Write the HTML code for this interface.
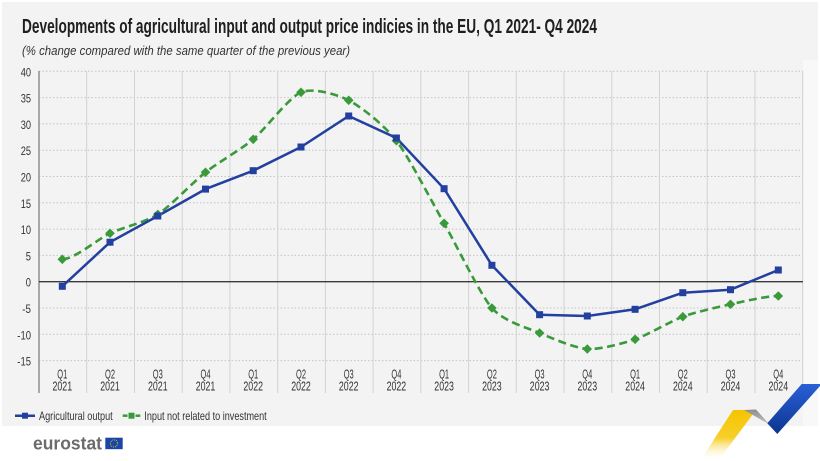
<!DOCTYPE html>
<html><head><meta charset="utf-8"><style>
html,body{margin:0;padding:0;background:#fff;}
svg{display:block;}
text{font-family:"Liberation Sans",sans-serif;}
</style></head><body>
<svg width="820" height="461" viewBox="0 0 820 461" xmlns="http://www.w3.org/2000/svg">
<defs>
<linearGradient id="yel" x1="0" y1="0" x2="0" y2="1">
<stop offset="0" stop-color="#f5c400"/><stop offset="0.55" stop-color="#f7cf2a"/><stop offset="1" stop-color="#ffffff" stop-opacity="0"/>
</linearGradient>
<linearGradient id="gry" x1="0" y1="0" x2="0" y2="1">
<stop offset="0" stop-color="#8c8c8c"/><stop offset="1" stop-color="#e8e8e8"/>
</linearGradient>
<linearGradient id="blu" x1="0" y1="0" x2="0" y2="1">
<stop offset="0" stop-color="#2a5fd6"/><stop offset="1" stop-color="#0c3591"/>
</linearGradient>
</defs>
<rect x="0" y="0" width="820" height="461" fill="#ffffff"/>
<rect x="2" y="2" width="816" height="424" fill="#f3f3f3"/>
<rect x="803" y="60" width="15" height="366" fill="#f8f8f8"/>

<!-- title -->
<text x="22" y="33" font-size="20" font-weight="bold" fill="#1f1f1f" textLength="575" lengthAdjust="spacingAndGlyphs">Developments of agricultural input and output price indicies in the EU, Q1 2021- Q4 2024</text>
<text x="22" y="55" font-size="13" font-style="italic" fill="#333" textLength="328" lengthAdjust="spacingAndGlyphs">(% change compared with the same quarter of the previous year)</text>

<!-- horizontal dotted gridlines -->
<g stroke="#c4c4c4" stroke-width="1" stroke-dasharray="1.5,2">
<line x1="39" y1="71.3" x2="803" y2="71.3"/>
<line x1="39" y1="97.6" x2="803" y2="97.6"/>
<line x1="39" y1="123.9" x2="803" y2="123.9"/>
<line x1="39" y1="150.2" x2="803" y2="150.2"/>
<line x1="39" y1="176.5" x2="803" y2="176.5"/>
<line x1="39" y1="202.8" x2="803" y2="202.8"/>
<line x1="39" y1="229.1" x2="803" y2="229.1"/>
<line x1="39" y1="255.4" x2="803" y2="255.4"/>
<line x1="39" y1="308" x2="803" y2="308"/>
<line x1="39" y1="334.3" x2="803" y2="334.3"/>
<line x1="39" y1="360.6" x2="803" y2="360.6"/>
</g>
<!-- vertical gridlines -->
<g stroke="#d2d2d2" stroke-width="1">
<line x1="86.7" y1="71" x2="86.7" y2="393"/>
<line x1="134.5" y1="71" x2="134.5" y2="393"/>
<line x1="182.2" y1="71" x2="182.2" y2="393"/>
<line x1="229.9" y1="71" x2="229.9" y2="393"/>
<line x1="277.7" y1="71" x2="277.7" y2="393"/>
<line x1="325.4" y1="71" x2="325.4" y2="393"/>
<line x1="373.1" y1="71" x2="373.1" y2="393"/>
<line x1="420.8" y1="71" x2="420.8" y2="393"/>
<line x1="468.6" y1="71" x2="468.6" y2="393"/>
<line x1="516.3" y1="71" x2="516.3" y2="393"/>
<line x1="564.0" y1="71" x2="564.0" y2="393"/>
<line x1="611.8" y1="71" x2="611.8" y2="393"/>
<line x1="659.5" y1="71" x2="659.5" y2="393"/>
<line x1="707.2" y1="71" x2="707.2" y2="393"/>
<line x1="755.0" y1="71" x2="755.0" y2="393"/>
<line x1="802.7" y1="71" x2="802.7" y2="393"/>
</g>
<line x1="39" y1="71" x2="39" y2="393" stroke="#8f8f8f" stroke-width="1.5"/>
<line x1="39" y1="281.7" x2="803" y2="281.7" stroke="#3a3a3a" stroke-width="1.3"/>

<!-- y labels -->
<g font-size="12" fill="#333" text-anchor="end">
<text x="31" y="76.3" textLength="10.3" lengthAdjust="spacingAndGlyphs">40</text>
<text x="31" y="102.6" textLength="10.3" lengthAdjust="spacingAndGlyphs">35</text>
<text x="31" y="128.9" textLength="10.3" lengthAdjust="spacingAndGlyphs">30</text>
<text x="31" y="155.2" textLength="10.3" lengthAdjust="spacingAndGlyphs">25</text>
<text x="31" y="181.5" textLength="10.3" lengthAdjust="spacingAndGlyphs">20</text>
<text x="31" y="207.8" textLength="10.3" lengthAdjust="spacingAndGlyphs">15</text>
<text x="31" y="234.1" textLength="10.3" lengthAdjust="spacingAndGlyphs">10</text>
<text x="31" y="260.4" textLength="5.2" lengthAdjust="spacingAndGlyphs">5</text>
<text x="31" y="286.7" textLength="5.2" lengthAdjust="spacingAndGlyphs">0</text>
<text x="31" y="313" textLength="8.7" lengthAdjust="spacingAndGlyphs">-5</text>
<text x="31" y="339.3" textLength="13.7" lengthAdjust="spacingAndGlyphs">-10</text>
<text x="31" y="365.6" textLength="13.7" lengthAdjust="spacingAndGlyphs">-15</text>
</g>

<!-- x labels -->
<g font-size="12.5" fill="#333" text-anchor="middle">
<text x="62.3" y="378.3" textLength="10" lengthAdjust="spacingAndGlyphs">Q1</text><text x="62.3" y="390.6" textLength="19.6" lengthAdjust="spacingAndGlyphs">2021</text>
<text x="110.0" y="378.3" textLength="10" lengthAdjust="spacingAndGlyphs">Q2</text><text x="110.0" y="390.6" textLength="19.6" lengthAdjust="spacingAndGlyphs">2021</text>
<text x="157.8" y="378.3" textLength="10" lengthAdjust="spacingAndGlyphs">Q3</text><text x="157.8" y="390.6" textLength="19.6" lengthAdjust="spacingAndGlyphs">2021</text>
<text x="205.5" y="378.3" textLength="10" lengthAdjust="spacingAndGlyphs">Q4</text><text x="205.5" y="390.6" textLength="19.6" lengthAdjust="spacingAndGlyphs">2021</text>
<text x="253.2" y="378.3" textLength="10" lengthAdjust="spacingAndGlyphs">Q1</text><text x="253.2" y="390.6" textLength="19.6" lengthAdjust="spacingAndGlyphs">2022</text>
<text x="301.0" y="378.3" textLength="10" lengthAdjust="spacingAndGlyphs">Q2</text><text x="301.0" y="390.6" textLength="19.6" lengthAdjust="spacingAndGlyphs">2022</text>
<text x="348.7" y="378.3" textLength="10" lengthAdjust="spacingAndGlyphs">Q3</text><text x="348.7" y="390.6" textLength="19.6" lengthAdjust="spacingAndGlyphs">2022</text>
<text x="396.4" y="378.3" textLength="10" lengthAdjust="spacingAndGlyphs">Q4</text><text x="396.4" y="390.6" textLength="19.6" lengthAdjust="spacingAndGlyphs">2022</text>
<text x="444.1" y="378.3" textLength="10" lengthAdjust="spacingAndGlyphs">Q1</text><text x="444.1" y="390.6" textLength="19.6" lengthAdjust="spacingAndGlyphs">2023</text>
<text x="491.9" y="378.3" textLength="10" lengthAdjust="spacingAndGlyphs">Q2</text><text x="491.9" y="390.6" textLength="19.6" lengthAdjust="spacingAndGlyphs">2023</text>
<text x="539.6" y="378.3" textLength="10" lengthAdjust="spacingAndGlyphs">Q3</text><text x="539.6" y="390.6" textLength="19.6" lengthAdjust="spacingAndGlyphs">2023</text>
<text x="587.3" y="378.3" textLength="10" lengthAdjust="spacingAndGlyphs">Q4</text><text x="587.3" y="390.6" textLength="19.6" lengthAdjust="spacingAndGlyphs">2023</text>
<text x="635.1" y="378.3" textLength="10" lengthAdjust="spacingAndGlyphs">Q1</text><text x="635.1" y="390.6" textLength="19.6" lengthAdjust="spacingAndGlyphs">2024</text>
<text x="682.8" y="378.3" textLength="10" lengthAdjust="spacingAndGlyphs">Q2</text><text x="682.8" y="390.6" textLength="19.6" lengthAdjust="spacingAndGlyphs">2024</text>
<text x="730.5" y="378.3" textLength="10" lengthAdjust="spacingAndGlyphs">Q3</text><text x="730.5" y="390.6" textLength="19.6" lengthAdjust="spacingAndGlyphs">2024</text>
<text x="778.3" y="378.3" textLength="10" lengthAdjust="spacingAndGlyphs">Q4</text><text x="778.3" y="390.6" textLength="19.6" lengthAdjust="spacingAndGlyphs">2024</text>
</g>

<!-- green series (mild spline, dashed) -->
<path fill="none" stroke="#3a9a3a" stroke-width="2.6" stroke-dasharray="8,4.5" d="M62.3 259.3 C74.23 259.3,98.07 238.91,110.0 233.3 C121.93 227.69,145.87 222.03,157.8 214.4 C169.73 206.77,193.57 181.69,205.5 172.3 C217.43 162.91,241.27 149.3,253.2 139.3 C265.13 129.3,289.07 97.18,301.0 92.3 C312.93 87.42,336.77 94.25,348.7 100.3 C360.63 106.35,384.47 125.32,396.4 140.7 C408.33 156.08,432.17 202.39,444.1 223.3 C456.03 244.21,479.97 294.29,491.9 308.0 C503.83 321.71,527.67 327.87,539.6 333.0 C551.53 338.13,575.37 348.21,587.3 349.0 C599.23 349.79,623.17 343.34,635.1 339.3 C647.03 335.26,670.87 321.08,682.8 316.7 C694.73 312.32,718.57 306.89,730.5 304.3 C742.43 301.71,766.37 296.0,778.3 296.0"/>

<!-- blue series -->
<polyline fill="none" stroke="#233f9f" stroke-width="2.5" stroke-linejoin="round" points="62.3,286.3 110.0,242.2 157.8,216.0 205.5,189.1 253.2,170.7 301.0,147.0 348.7,116.0 396.4,138.0 444.1,188.7 491.9,265.3 539.6,314.7 587.3,316.0 635.1,309.3 682.8,292.7 730.5,289.7 778.3,270.0"/>

<!-- green markers (diamonds) -->
<g fill="#3a9a3a">
<path d="M62.3 254.5 L67.1 259.3 L62.3 264.1 L57.5 259.3Z"/>
<path d="M110.0 228.5 L114.8 233.3 L110.0 238.1 L105.2 233.3Z"/>
<path d="M157.8 209.6 L162.6 214.4 L157.8 219.2 L153.0 214.4Z"/>
<path d="M205.5 167.5 L210.3 172.3 L205.5 177.1 L200.7 172.3Z"/>
<path d="M253.2 134.5 L258.0 139.3 L253.2 144.1 L248.4 139.3Z"/>
<path d="M301.0 87.5 L305.8 92.3 L301.0 97.1 L296.2 92.3Z"/>
<path d="M348.7 95.5 L353.5 100.3 L348.7 105.1 L343.9 100.3Z"/>
<path d="M396.4 135.9 L401.2 140.7 L396.4 145.5 L391.6 140.7Z"/>
<path d="M444.1 218.5 L448.9 223.3 L444.1 228.1 L439.3 223.3Z"/>
<path d="M491.9 303.2 L496.7 308.0 L491.9 312.8 L487.1 308.0Z"/>
<path d="M539.6 328.2 L544.4 333.0 L539.6 337.8 L534.8 333.0Z"/>
<path d="M587.3 344.2 L592.1 349.0 L587.3 353.8 L582.5 349.0Z"/>
<path d="M635.1 334.5 L639.9 339.3 L635.1 344.1 L630.3 339.3Z"/>
<path d="M682.8 311.9 L687.6 316.7 L682.8 321.5 L678.0 316.7Z"/>
<path d="M730.5 299.5 L735.3 304.3 L730.5 309.1 L725.7 304.3Z"/>
<path d="M778.3 291.2 L783.1 296.0 L778.3 300.8 L773.5 296.0Z"/>
</g>

<!-- blue markers (squares) -->
<g fill="#233f9f">
<rect x="58.8" y="282.8" width="7" height="7"/>
<rect x="106.5" y="238.7" width="7" height="7"/>
<rect x="154.3" y="212.5" width="7" height="7"/>
<rect x="202.0" y="185.6" width="7" height="7"/>
<rect x="249.7" y="167.2" width="7" height="7"/>
<rect x="297.5" y="143.5" width="7" height="7"/>
<rect x="345.2" y="112.5" width="7" height="7"/>
<rect x="392.9" y="134.5" width="7" height="7"/>
<rect x="440.6" y="185.2" width="7" height="7"/>
<rect x="488.4" y="261.8" width="7" height="7"/>
<rect x="536.1" y="311.2" width="7" height="7"/>
<rect x="583.8" y="312.5" width="7" height="7"/>
<rect x="631.6" y="305.8" width="7" height="7"/>
<rect x="679.3" y="289.2" width="7" height="7"/>
<rect x="727.0" y="286.2" width="7" height="7"/>
<rect x="774.8" y="266.5" width="7" height="7"/>
</g>

<!-- legend -->
<line x1="15" y1="415.7" x2="35" y2="415.7" stroke="#233f9f" stroke-width="2.5"/>
<rect x="22" y="412.7" width="6" height="6" fill="#233f9f"/>
<text x="39" y="420" font-size="12" fill="#333" textLength="73.7" lengthAdjust="spacingAndGlyphs">Agricultural output</text>
<line x1="122.7" y1="415.7" x2="127.5" y2="415.7" stroke="#3a9a3a" stroke-width="2.5"/>
<rect x="128.5" y="412.7" width="6" height="6" fill="#3a9a3a"/>
<line x1="135.5" y1="415.7" x2="140.3" y2="415.7" stroke="#3a9a3a" stroke-width="2.5"/>
<text x="144.3" y="420" font-size="12" fill="#333" textLength="122.4" lengthAdjust="spacingAndGlyphs">Input not related to investment</text>

<!-- eurostat logo -->
<text x="33" y="449.5" font-size="18.5" font-weight="bold" fill="#6b6b6b" textLength="69" lengthAdjust="spacingAndGlyphs">eurostat</text>
<rect x="105.3" y="437.7" width="17.4" height="11.5" fill="#1b46a8"/>
<circle cx="114" cy="443.45" r="3.6" fill="none" stroke="#f2d000" stroke-width="1" stroke-dasharray="0.8,1.1"/>

<!-- decorative corner -->
<path d="M733 410 L756 410 L718 461 L700 461 Z" fill="url(#yel)"/>
<path d="M744 410 L756 409.5 L778 434 L767.3 423.3 Z" fill="url(#gry)"/>
<path d="M801.7 384 L820 384 L820 386 L777.3 434 L767.3 423.3 Z" fill="url(#blu)"/>
</svg>
</body></html>
